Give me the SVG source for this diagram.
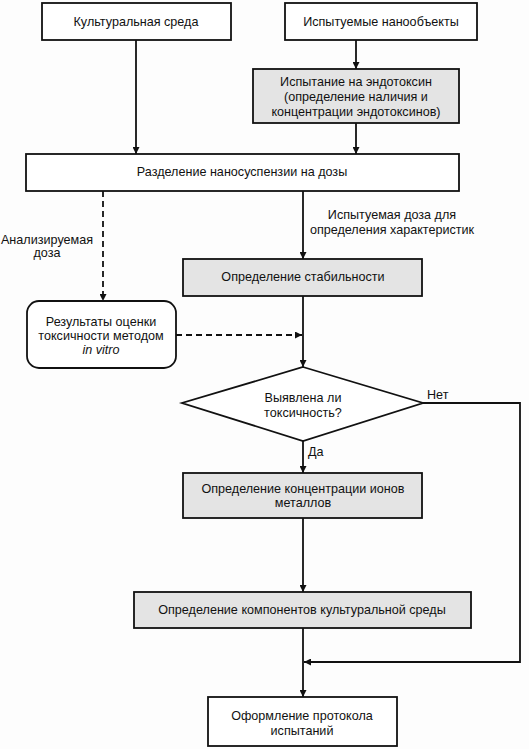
<svg xmlns="http://www.w3.org/2000/svg" width="529" height="749" viewBox="0 0 529 749">
<style>
.box{fill:#fff;stroke:#111;stroke-width:1.8}
.gray{fill:#e4e4e4;stroke:#111;stroke-width:1.8}
.t{font-family:"Liberation Sans",Arial,sans-serif;font-size:12.6px;fill:#111;text-anchor:middle}
.l{font-family:"Liberation Sans",Arial,sans-serif;font-size:12.6px;fill:#111}
.c{fill:none;stroke:#111;stroke-width:1.8}
.d{fill:none;stroke:#111;stroke-width:1.8;stroke-dasharray:6,4}
</style>
<defs>
<marker id="ah2" viewBox="0 0 10 10" refX="10" refY="5" markerWidth="9" markerHeight="7" markerUnits="userSpaceOnUse" orient="auto">
<path d="M0,0 L10,5 L0,10 z" fill="#111"/>
</marker>
</defs>
<rect width="529" height="749" fill="#fdfdfd"/>
<g id="connectors">
<line class="c" x1="136" y1="40" x2="136" y2="154" marker-end="url(#ah2)"/>
<line class="c" x1="356" y1="40" x2="356" y2="69" marker-end="url(#ah2)"/>
<line class="c" x1="356" y1="123" x2="356" y2="154" marker-end="url(#ah2)"/>
<line class="d" x1="103" y1="191" x2="103" y2="301" marker-end="url(#ah2)"/>
<line class="c" x1="303" y1="191" x2="303" y2="259" marker-end="url(#ah2)"/>
<line class="d" x1="176" y1="335" x2="302" y2="335" marker-end="url(#ah2)"/>
<line class="c" x1="303" y1="296" x2="303" y2="367" marker-end="url(#ah2)"/>
<line class="c" x1="303" y1="441" x2="303" y2="473" marker-end="url(#ah2)"/>
<line class="c" x1="303" y1="518" x2="303" y2="592" marker-end="url(#ah2)"/>
<line class="c" x1="303" y1="628" x2="303" y2="697" marker-end="url(#ah2)"/>
<polyline class="c" points="423,403 520,403 520,662 304,662" marker-end="url(#ah2)"/>
<text class="t" x="392" y="219">Испытуемая доза для</text>
<text class="t" x="392" y="234">определения характеристик</text>
<text class="t" x="47" y="244">Анализируемая</text>
<text class="t" x="47" y="257">доза</text>
<text class="l" x="427" y="399">Нет</text>
<text class="l" x="308" y="456">Да</text>
</g>
<g id="n1">
<rect class="box" x="42" y="3" width="189" height="37"/>
<text class="t" x="136" y="26">Культуральная среда</text>
</g>
<g id="n2">
<rect class="box" x="285" y="3" width="192" height="37"/>
<text class="t" x="381" y="26">Испытуемые нанообъекты</text>
</g>
<g id="n3">
<rect class="gray" x="253" y="69" width="206" height="54"/>
<text class="t" x="356" y="86">Испытание на эндотоксин</text>
<text class="t" x="356" y="101">(определение наличия и</text>
<text class="t" x="356" y="116">концентрации эндотоксинов)</text>
</g>
<g id="n4">
<rect class="box" x="26" y="154" width="433" height="37"/>
<text class="t" x="242" y="176">Разделение наносуспензии на дозы</text>
</g>
<g id="n5">
<rect class="gray" x="183" y="259" width="239" height="37"/>
<text class="t" x="303" y="281">Определение стабильности</text>
</g>
<g id="n6">
<rect class="box" x="27" y="301" width="149" height="67" rx="12"/>
<text class="t" x="101" y="326">Результаты оценки</text>
<text class="t" x="101" y="340">токсичности методом</text>
<text class="t" x="101" y="354" font-style="italic">in vitro</text>
</g>
<g id="n7">
<polygon class="box" points="303,367 423,403 303,441 182,403"/>
<text class="t" x="303" y="402">Выявлена ли</text>
<text class="t" x="303" y="417">токсичность?</text>
</g>
<g id="n8">
<rect class="gray" x="183" y="473" width="239" height="45"/>
<text class="t" x="303" y="493">Определение концентрации ионов</text>
<text class="t" x="303" y="507">металлов</text>
</g>
<g id="n9">
<rect class="gray" x="134" y="592" width="337" height="36"/>
<text class="t" x="302" y="614">Определение компонентов культуральной среды</text>
</g>
<g id="n10">
<rect class="box" x="208" y="697" width="189" height="49"/>
<text class="t" x="302" y="720">Оформление протокола</text>
<text class="t" x="302" y="735">испытаний</text>
</g>
</svg>
